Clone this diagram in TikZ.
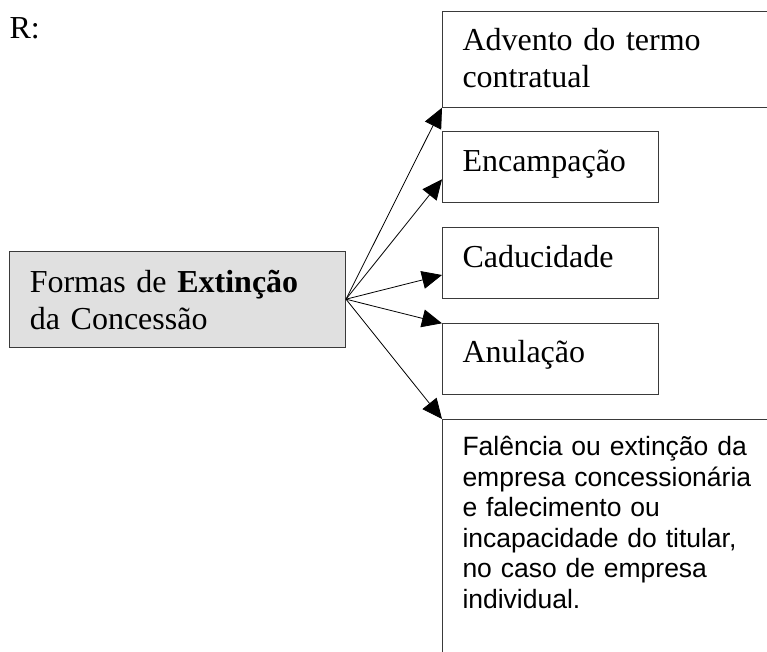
\documentclass[tikz,border=0pt]{standalone}
\usepackage{fontspec}
\setmainfont{Liberation Serif}
\newfontfamily\arialfont{Liberation Sans}
\usetikzlibrary{arrows.meta}
\definecolor{boxline}{HTML}{3A3A3A}
\definecolor{shade}{HTML}{E0E0E0}
\begin{document}
\begin{tikzpicture}[x=1pt,y=-1pt,
  box/.style={draw=boxline, line width=1pt, anchor=north west, inner xsep=20pt,
    inner ysep=0pt, align=left, font=\fontsize{32}{37}\selectfont},
  arr/.style={line width=0.8pt, -{Triangle[length=20pt,width=18pt]}}]
\useasboundingbox (0,0) rectangle (767,652);
\clip (0,0) rectangle (767,652);
\node[anchor=base west, inner sep=0pt, font=\fontsize{32}{37}\selectfont] (r) at (9.3,38.3) {R:};
\node[box, text width=318pt, text height=39.3pt, text depth=56.7pt] (advento) at (442,10.7)
  {Advento do termo\\contratual};
\node[box, text width=176pt, text height=40pt, text depth=31pt] (enc) at (442,131)
  {Encampação};
\node[box, text width=176pt, text height=39.5pt, text depth=31.5pt] (cad) at (442,227.3)
  {Caducidade};
\node[box, text width=176pt, text height=39pt, text depth=32pt] (anu) at (442,323.3)
  {Anulação};
\node[box, text width=318pt, text height=36pt, text depth=245pt,
  font=\arialfont\fontsize{26.5}{30.5}\selectfont] (fal) at (442,419)
  {Falência ou extinção da\\empresa concessionária\\e falecimento ou\\incapacidade do titular,\\no caso de empresa\\individual.};
\node[box, fill=shade, text width=295.7pt, text height=41pt, text depth=55pt] (formas) at (9.3,250.7)
  {Formas de \textbf{Extinção}\\da Concessão};
\draw[arr] (formas.east) -- (advento.south west);
\draw[arr] (formas.east) -- ([yshift=-48.3pt]enc.north west);
\draw[arr] (formas.east) -- ([yshift=-47.7pt]cad.north west);
\draw[arr] (formas.east) -- (anu.north west);
\draw[arr] (formas.east) -- (fal.north west);
\end{tikzpicture}
\end{document}
